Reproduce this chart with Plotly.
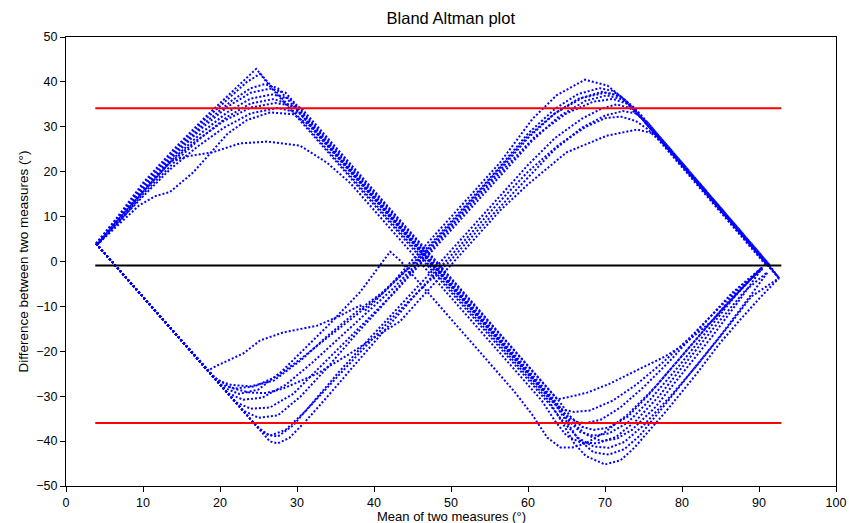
import plotly.graph_objects as go

# ---------------- data ----------------
# Summary statistics of the Bland-Altman plot
mean_difference = -0.9
upper_limit = 34.15
lower_limit = -35.95
limit_line_x = [3.8, 92.9]

# Upper-left arches (rise from the left tip, peak, join the falling band)
upper_left_arches = [
    [(3.9, 4.0), (6.5, 9.5), (10, 17.5), (14, 25), (18, 32), (21.5, 37.8), (24.7, 42.9)],
    [(3.9, 4.0), (6.5, 9.2), (10, 17), (14, 24.5), (18, 31.5), (21.5, 37), (23.5, 40), (25.2, 41.8), (26.5, 39.0)],
    [(4.1, 3.8), (7, 10), (10, 16.5), (14, 24), (18, 30.8), (21.5, 35.8), (24, 38.6), (25.8, 39.5), (27.5, 38.6)],
    [(4.1, 3.8), (7, 9.5), (10, 16), (14, 23.5), (17.5, 29.5), (21, 34.5), (24, 37.6), (26.5, 38.5), (28.5, 37.6)],
    [(4.2, 4.1), (7, 9.8), (10, 15.5), (14, 23), (17.5, 28.5), (21, 33.3), (24, 36.3), (26.8, 37.2), (29, 36.3)],
    [(4.0, 3.6), (7, 9), (10, 15), (14, 22), (17.5, 27.5), (21, 32.3), (24, 35.2), (27, 36.2), (29.5, 34.6)],
    [(4.0, 3.9), (7, 9.5), (10, 15.5), (13.5, 22), (17, 27), (20.5, 31.3), (24, 34.3), (27.2, 35.3), (30.5, 34.3)],
    [(4.1, 4.0), (7, 9.2), (10, 14.5), (13.5, 20.5), (17, 25.5), (20.5, 29.8), (24, 33), (27.5, 34.2), (30.5, 33)],
    [(4.0, 3.7), (7, 8.5), (9.5, 12.5), (11.5, 14.5), (13.5, 15.5), (16.5, 19.8), (18.7, 24), (21, 28.5),
     (23.5, 31.5), (26.5, 33.2), (29.5, 32.8), (31.5, 30.5)],
    [(4.0, 3.9), (7, 9.3), (10, 15.8), (13.5, 22.3), (16, 23.5), (19, 24.3), (22.6, 26.3), (26.1, 26.7),
     (30.4, 25.8), (33.9, 22), (36.9, 17.5)],
]

# Lower-right troughs (leave the falling band, dip, rise to the right tip)
lower_right_troughs = [
    [(62.7, -31), (64.5, -36), (66, -40.5), (67.5, -43.3), (70, -45.2), (72, -44.3), (73.8, -41.5), (75.4, -38.3),
     (78, -33.2), (81.9, -25), (85, -18), (87.5, -13.1), (90, -8.3), (92.6, -3.7)],
    [(62.4, -31), (64.5, -35.5), (66.5, -39.3), (68.5, -41.2), (70.5, -41.5), (72.5, -40.2), (75, -36.5),
     (78.5, -30), (82, -23), (86, -14.5), (89, -7.8), (92.6, -3.7)],
    [(63.2, -31), (65, -35.5), (66.5, -39.5), (68.5, -42.5), (70.5, -43), (72.5, -41.8), (74.5, -38.8),
     (77.5, -32.5), (81, -25), (85, -16.5), (88.5, -8.5), (91.2, -2.2)],
    [(63.8, -30.7), (65.5, -30.1), (67.7, -29.2), (70.5, -27.3), (73.2, -25), (77.5, -21.4), (79.7, -19.2),
     (82, -16), (84, -13.1), (87, -7.4), (90.4, -1.3)],
    [(63.5, -31), (65.5, -35.5), (67.5, -38.5), (69.5, -40), (71.5, -39.5), (73.5, -37.5), (76.5, -32.5),
     (80, -25), (84, -16.5), (87.5, -8.5), (90.4, -1.5)],
    [(63.2, -31), (65, -35), (66.8, -38), (68.5, -38.8), (70.5, -38.3), (73, -35.8), (76, -30.5), (79.5, -23.5),
     (83.5, -15), (87, -7.5), (90.4, -1.3)],
    [(64, -31), (65.5, -34.5), (67, -36.8), (68.5, -37.5), (70.5, -37), (73, -34.5), (75.5, -30), (79, -23),
     (83, -15), (86.5, -8), (90.4, -1.5)],
    [(63.3, -31), (64.8, -34), (66.2, -35.7), (67.5, -36), (69.5, -35.2), (72, -32.5), (75, -28), (78.5, -22),
     (82.5, -14.5), (86.5, -7), (90.4, -1.3)],
    [(63, -31), (64.5, -33), (66, -33.5), (68, -33.2), (71, -31), (74, -27.5), (77.5, -22.5), (81, -17),
     (85, -10), (88, -5), (90.6, -1.5)],
    [(61.8, -31), (63.5, -35.5), (65, -38.8), (66.8, -40.3), (69, -40.5), (71.5, -39), (74, -35.5), (77, -30),
     (80.5, -22.5), (84.5, -14), (88.2, -6.5), (91, -2.5)],
]

# Lower-left branches (fall from the left tip, turn, rise to the centre)
lower_left_branches = [
    [(3.9, 4.0), (18.4, -24.3), (19.6, -23.2), (23, -20.5), (25.2, -17.6), (28.2, -15.8), (32.6, -14.3),
     (35.2, -12.4), (38.2, -9.8), (38.8, -11), (40.5, -8.2), (42.8, -4), (44.8, 0)],
    [(3.9, 4.0), (20, -27.4), (22, -28.3), (24.5, -27.8), (27.5, -25.5), (31, -21), (34.5, -16.2), (38, -11.5),
     (41.5, -6.5), (45.3, 0)],
    [(3.9, 4.0), (21, -29.3), (23, -30.8), (25.5, -30.3), (28.5, -27.5), (32, -22.5), (35.5, -17), (39, -11.5),
     (42.5, -6), (45.8, 0)],
    [(3.9, 4.0), (22, -31.3), (24, -32.8), (26.5, -32.5), (29.5, -29.5), (33, -23.5), (36.5, -17.5), (40, -11.5),
     (43, -6.3), (46.3, 0)],
    [(3.9, 4.0), (23, -33.2), (25, -34.8), (27.5, -34.3), (30.5, -30), (34, -23.5), (37.5, -16.5), (41, -10),
     (46, 0)],
    [(3.9, 4.0), (24.5, -36.2), (26, -38.5), (27.5, -39), (29.5, -36.5), (32, -31.5), (35.5, -24.5), (39.5, -17),
     (44, -8.8), (48.7, 0)],
    [(3.9, 4.0), (26.5, -40.1), (27.5, -40.5), (29, -39.3), (31, -35.8), (34, -30), (38, -22), (42, -14),
     (45.5, -7.2), (49.3, 0)],
    [(3.9, 4.0), (19.1, -25.6), (21.5, -28.2), (23.9, -29.2), (26, -29.3), (28.2, -28.3), (32.6, -25),
     (36.9, -20.5), (40, -17), (43.4, -13.3), (46.5, -7.4), (50.4, 0)],
    [(3.9, 4.0), (25, -37.1), (26.5, -38.8), (28.5, -37.5), (31, -33.5), (34.5, -27), (38.5, -19.5),
     (42.5, -12.3), (46, -6.3), (49.8, 0)],
    [(3.9, 4.0), (19.5, -26.4), (21.5, -27.5), (24, -27.8), (27, -26.5), (30.5, -22), (34, -16.5), (37.5, -11.5),
     (41, -7), (45.5, 0)],
]

# Upper-right arches (rise from the centre, peak, fall back to the right tip)
upper_right_arches = [
    [(44.8, 0), (50, 9.9), (56.4, 22.1), (60.6, 31.8), (63.7, 37), (67.4, 40.5), (70.3, 39.2), (71.9, 37),
     (73.7, 34)],
    [(45.3, 0), (51, 10.8), (56.4, 21.2), (60, 28.5), (63.5, 34), (66.5, 37.3), (69.3, 38.6), (71, 38),
     (72.5, 36.2), (74, 33.4)],
    [(45.8, 0), (51, 9.9), (56.4, 20.4), (60, 27.5), (63.5, 33), (66.5, 36.2), (69.6, 37.8), (71.3, 37.2),
     (72.8, 35.6), (74.3, 32.8)],
    [(46.3, 0), (51.5, 9.9), (56.4, 19.2), (60.5, 26.8), (64, 32.3), (67.5, 35.8), (70.2, 37), (72, 36.2),
     (73.5, 34.5), (75, 31.6)],
    [(46, 0), (51.5, 10.5), (56.4, 19.8), (61, 28), (65, 33), (68.5, 35.6), (71, 36.2), (72.8, 35.2),
     (74.5, 32.5), (75.5, 30.5)],
    [(48.7, 0), (52.5, 7.2), (56.4, 14.7), (60, 21.5), (63.5, 27.5), (67, 31.8), (69.5, 34), (71.5, 35),
     (73.2, 34.2), (74.8, 31.8), (76, 29.4)],
    [(49.3, 0), (53, 7), (56.4, 13.5), (60, 20), (64, 26), (67.5, 30), (70, 31.9), (72, 32.3), (74, 31.3),
     (75.5, 29.5), (77, 27)],
    [(50.4, 0), (53.5, 5.9), (56.4, 11.4), (60, 17.2), (65, 24.3), (70.2, 28), (74.2, 29.4), (76.5, 28.4),
     (78, 25.8)],
    [(49.8, 0), (53.5, 7), (56.4, 12.2), (60, 18.8), (63.5, 25), (67, 29.8), (70, 32.5), (72.3, 33.5), (74, 33),
     (75.5, 31)],
    [(45.5, 0), (51, 10.4), (56.4, 20.8), (60, 27.9), (63.5, 33), (67, 36.4), (70, 37.6), (72, 36.8),
     (73.6, 34.6), (74.8, 32.4)],
]

# Where each upper-right arch's falling line ends near the right tip
upper_right_ends = [
    [(90.7, 0.0), (92.6, -3.7)],
    [(90.7, 0.0), (91.2, -1.0)],
    [(90.7, 0.0), (92.6, -3.7)],
    [(90.8, 0.0), (91.3, -1.0)],
    [(90.75, 0.0), (91.2, -0.9)],
    [(90.7, 0.0), (92.6, -3.7)],
    [(90.5, 0.0), (91.0, -1.0)],
    [(90.9, 0.0), (91.4, -1.0)],
    [(91.0, 0.0), (92.6, -3.7)],
    [(91.0, 0.0), (91.5, -1.0)],
]

# One odd trial that loops up near the centre and falls straight down
odd_trial = [(3.9, 4.0), (20.5, -28.1), (22.5, -29.5), (25, -28.5), (28, -24.5), (31, -19.5), (34.3, -13.8),
             (38.2, -6.8), (40.5, -1.5), (42.1, 2.2), (43.4, 0.2), (44.7, -2.4), (58.1, -28.7), (60.5, -34),
             (62.5, -39.2), (64.2, -41.4), (65.8, -41.4), (67.5, -40.5), (70, -38), (73, -34), (76.5, -28),
             (80.5, -20), (85, -11), (90.4, -1.3)]

# ---------------- build paths ----------------
paths = []
for ul, lr in zip(upper_left_arches, lower_right_troughs):
    paths.append(ul + lr)
for ll, ur, end in zip(lower_left_branches, upper_right_arches, upper_right_ends):
    paths.append(ll + ur + end)
paths.append(odd_trial)

xs, ys = [], []
for p in paths:
    xs += [pt[0] for pt in p] + [None]
    ys += [pt[1] for pt in p] + [None]

BLUE = "#0000FF"
fig = go.Figure()
fig.add_trace(go.Scatter(
    x=xs, y=ys, mode="lines", connectgaps=False,
    line=dict(color=BLUE, width=2, dash="2px,2px"),
    hoverinfo="skip", showlegend=False,
))
for val, col in [(upper_limit, "#FF0000"), (mean_difference, "#000000"), (lower_limit, "#FF0000")]:
    fig.add_trace(go.Scatter(
        x=limit_line_x, y=[val, val], mode="lines",
        line=dict(color=col, width=2), hoverinfo="skip", showlegend=False,
    ))

FONT = "Liberation Sans, Arial, Helvetica, sans-serif"
axis_common = dict(
    showgrid=False, zeroline=False, showline=True, linecolor="black", linewidth=1,
    mirror=True, ticks="outside", ticklen=5, tickcolor="black", tickwidth=1,
    tickfont=dict(family=FONT, size=12.5, color="black"), automargin=False,
)
fig.update_layout(
    width=849, height=523,
    margin=dict(l=66, r=13, t=37, b=37, autoexpand=False),
    paper_bgcolor="white", plot_bgcolor="white",
    font=dict(family=FONT, color="black"),
    title=dict(text="Bland Altman plot", x=0.531, xanchor="center", y=0.966, yanchor="middle",
               font=dict(family=FONT, size=16.5, color="black"), automargin=False),
    xaxis=dict(range=[0, 100], dtick=10, tick0=0, **axis_common),
    yaxis=dict(range=[-50, 50], dtick=10, tick0=0,
               title=dict(text="Difference between two measures (°)", font=dict(family=FONT, size=13.5),
                          standoff=4),
               **axis_common),
    annotations=[dict(text="Mean of two measures (°)", xref="paper", yref="paper", x=0.5, y=-0.05,
                      xanchor="center", yanchor="top", borderpad=0, showarrow=False,
                      font=dict(family=FONT, size=13, color="black"))],
)
fig.write_html("out.html", config={"displayModeBar": False},
               post_script="document.body.style.margin='0';document.body.style.padding='0';"
                           "document.body.style.overflow='hidden';")
